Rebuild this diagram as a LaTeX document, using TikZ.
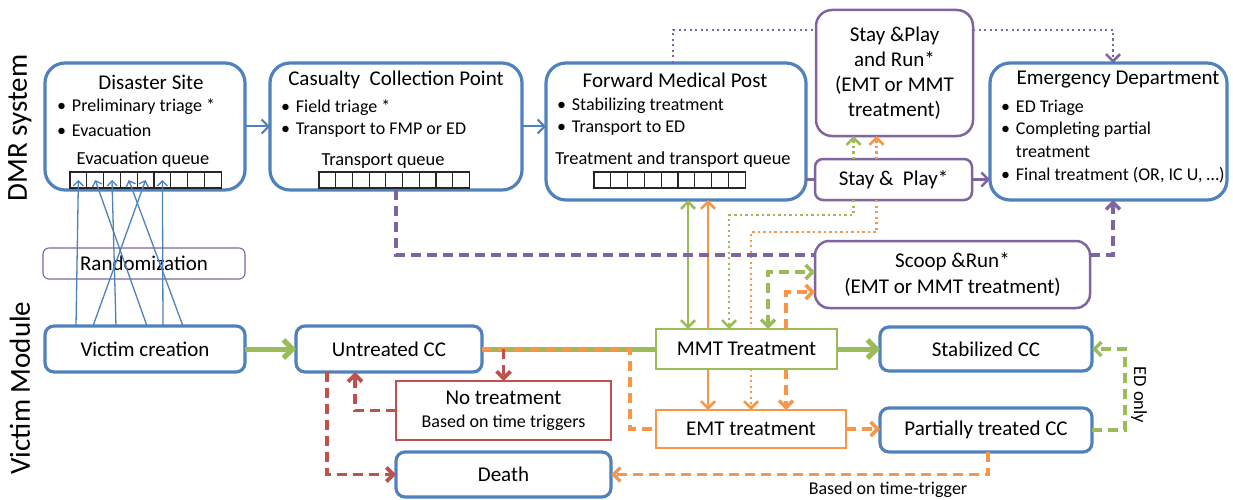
\documentclass[tikz,border=0pt]{standalone}
\usepackage{fontspec}
\setmainfont{Carlito}
\usetikzlibrary{arrows.meta,calc}

\definecolor{dmrblue}{RGB}{79,129,189}
\definecolor{dmrgreen}{RGB}{155,187,89}
\definecolor{dmrorange}{RGB}{247,150,70}
\definecolor{dmrred}{RGB}{192,80,77}
\definecolor{dmrpurple}{RGB}{128,100,162}

\begin{document}
\begin{tikzpicture}[
		x=1pt,y=-1pt,
		font=\fontsize{21}{24}\selectfont,
		every node/.style={inner sep=0pt,outer sep=0pt},
		sitebox/.style={draw=dmrblue,line width=3.2pt,rounded corners=20pt,fill=white},
		ccbox/.style={draw=dmrblue,line width=3.2pt,rounded corners=9pt,fill=white},
		modebox/.style={draw=dmrpurple,line width=2.5pt,rounded corners=#1,fill=white},
		treatbox/.style={draw=#1,line width=2.8pt,fill=white},
		qcell/.style={draw=black!85,line width=1.1pt,minimum width=16.8pt,minimum height=16pt},
		sitetitle/.style={font=\fontsize{21}{24}\selectfont},
		itemtext/.style={anchor=west,font=\fontsize{18}{22}\selectfont},
		qlabel/.style={font=\fontsize{18.4}{21}\selectfont},
		sidelabel/.style={rotate=90,font=\fontsize{29}{33}\selectfont},
		barb/.style={-{Straight Barb[length=7pt,width=14pt]}},
		twobarb/.style={{Straight Barb[length=7pt,width=14pt]}-{Straight Barb[length=7pt,width=14pt]}},
		bigbarb/.style={-{Straight Barb[length=9pt,width=18pt]}},
		dashline/.style={dash pattern=on 10pt off 6pt,line width=3.4pt},
		dotline/.style={dash pattern=on 2.2pt off 3.3pt,line width=2.6pt}
	]
	\useasboundingbox (0,0) rectangle (1233,500);
	
	\node[sidelabel] (dmrlabel) at (20,128) {DMR system};
	\node[sidelabel] (vmlabel) at (20,388) {Victim Module};
	
	\node[sitebox,minimum width=200pt,minimum height=127pt] (ds) at (145,126.5) {};
	\node[sitetitle] (dstitle) at (151,82) {Disaster Site};
	\node[itemtext] (ds1) at (57,107) {•\hspace{6pt}Preliminary triage *};
	\node[itemtext] (ds2) at (57,130) {•\hspace{6pt}Evacuation};
	\node[qlabel] (dsq) at (143,160) {Evacuation queue};
	\foreach \i in {1,...,9}
		\node[qcell] (dq\i) at ({70+16.8*(\i-0.5)},180) {};
	
	\node[sitebox,minimum width=252pt,minimum height=127pt] (ccp) at (396,126.5) {};
	\node[sitetitle] (ccptitle) at (396,80) {Casualty\ \ Collection Point};
	\node[itemtext] (ccp1) at (281,108) {•\hspace{6pt}Field triage *};
	\node[itemtext] (ccp2) at (281,130) {•\hspace{6pt}Transport to FMP or ED};
	\node[qlabel] (ccpq) at (383,161) {Transport queue};
	\foreach \i in {1,...,9}
		\node[qcell] (cq\i) at ({319+16.7*(\i-0.5)},180) {};
	
	\node[sitebox,minimum width=260pt,minimum height=137pt] (fmp) at (676,131.5) {};
	\node[sitetitle] (fmptitle) at (675,80) {Forward Medical Post};
	\node[itemtext] (fmp1) at (557,106) {•\hspace{6pt}Stabilizing treatment};
	\node[itemtext] (fmp2) at (557,128) {•\hspace{6pt}Transport to ED};
	\node[qlabel] (fmpq) at (673,160) {Treatment and transport queue};
	\foreach \i in {1,...,9}
		\node[qcell] (fq\i) at ({594+16.8*(\i-0.5)},180) {};
	
	\node[sitebox,minimum width=237pt,minimum height=137pt] (ed) at (1108.5,131.5) {};
	\node[sitetitle] (edtitle) at (1118,80) {Emergency Department};
	\node[itemtext] (ed1) at (1001,108) {•\hspace{6pt}ED Triage};
	\node[itemtext] (ed2) at (1001,130) {•\hspace{6pt}Completing partial};
	\node[itemtext] (ed3) at (1001,152) {\phantom{•}\hspace{6pt}treatment};
	\node[itemtext] (ed4) at (1001,175) {•\hspace{6pt}Final treatment (OR, IC U, …)};
	
	\node[modebox=16pt,minimum width=157pt,minimum height=126pt,align=center,font=\fontsize{21}{25}\selectfont] (spr) at (894.5,73) {Stay \&Play\\and Run*\\(EMT or MMT\\treatment)};
	\node[modebox=8pt,minimum width=157pt,minimum height=41pt] (sp) at (893.5,179.5) {Stay \&\ \ Play*};
	\node[modebox=14pt,minimum width=275pt,minimum height=67pt,align=center,font=\fontsize{21}{26}\selectfont] (sr) at (952.5,274.5) {Scoop \&Run*\\(EMT or MMT treatment)};
	\node[draw=dmrpurple,line width=1.1pt,rounded corners=6pt,fill=white,minimum width=202pt,minimum height=31pt] (rnd) at (144,263.5) {Randomization};
	
	\node[ccbox,minimum width=200pt,minimum height=46pt] (vc) at (145,349) {Victim creation};
	\node[ccbox,minimum width=186pt,minimum height=46pt] (ucc) at (389,349) {Untreated CC};
	\node[treatbox=dmrgreen,minimum width=181pt,minimum height=40pt] (mmt) at (746.5,349) {MMT Treatment};
	\node[ccbox,minimum width=212pt,minimum height=44pt] (scc) at (986,349) {Stabilized CC};
	\node[treatbox=dmrred,minimum width=215pt,minimum height=59pt,align=center,font=\fontsize{21}{23}\selectfont] (nt) at (503.5,410.5) {No treatment\\{\fontsize{18}{20}\selectfont Based on time triggers}};
	\node[treatbox=dmrorange,minimum width=190pt,minimum height=38pt] (emt) at (751,429) {EMT treatment};
	\node[ccbox,minimum width=212pt,minimum height=44pt] (ptc) at (986,430) {Partially treated CC};
	\node[ccbox,minimum width=215pt,minimum height=45pt] (death) at (503.5,474.5) {Death};
	
	\draw[dmrblue,line width=2pt,barb] (ds.east) -- (ccp.west);
	\draw[dmrblue,line width=2pt,barb] (ccp.east) -- (ccp.east -| fmp.west);
	\draw[dmrpurple,line width=2.4pt] (sp.west -| fmp.east) -- (sp.west);
	\draw[dmrpurple,line width=2.4pt,barb] (sp.east) -- (sp.east -| ed.west);
	\draw[dmrpurple,dotline] ($(fmp.north)+(-3,0)$) |- ($(spr.west)+(0,-43)$);
	\draw[dmrpurple,dotline,barb] ($(spr.east)+(0,-43)$) -| ($(ed.north)+(4.5,0)$);
	
	\foreach \s/\q in {31/1,48/5,71/3,102/2,118/6,138/4}
		\draw[dmrblue,line width=1.3pt,-{Straight Barb[length=5pt,width=10pt]}] ($(vc.north west)+(\s,0)$) -- (dq\q.center);
	
	\draw[dmrgreen,line width=5pt,bigbarb] (vc) -- (ucc);
	\draw[dmrgreen,line width=5pt] (ucc) -- (mmt);
	\draw[dmrgreen,line width=5pt,bigbarb] (mmt) -- (scc);
	
	\draw[dmrgreen,line width=2.6pt,twobarb] ($(fmp.south)+(12,0)$) -- ($(mmt.north)+(-58.5,0)$);
	\draw[dmrorange,line width=2.6pt,barb] ($(mmt.north)+(-38.5,0)$) -- ($(fmp.south)+(32,0)$);
	\draw[dmrorange,line width=2.6pt,barb] ($(mmt.south)+(-38.5,0)$) -- ($(emt.north)+(-43,0)$);
	
	\draw[dmrgreen,dotline,barb] ($(sp.south)+(-40,0)$) -- ++(0,15) -| ($(mmt.north)+(-17.5,0)$);
	\draw[dmrgreen,dotline,barb] ($(sp.north)+(-40,0)$) -- +(0,-23);
	\draw[dmrorange,dotline] ($(sp.south)+(-17,0)$) -- ++(0,32) -| ($(mmt.north)+(4.5,0)$);
	\draw[dmrorange,dotline,barb] ($(mmt.south)+(4.5,0)$) -- (emt.north);
	\draw[dmrorange,dotline,barb] ($(sp.north)+(-17,0)$) -- +(0,-23);
	
	\draw[dmrpurple,dashline] (ccp.south) |- ($(sr.west)+(0,-19.5)$);
	\draw[dmrpurple,dashline,barb] ($(sr.east)+(0,-19.5)$) -| ($(ed.south)+(4.5,0)$);
	
	\draw[dmrgreen,dashline,twobarb] ($(mmt.north)+(21.5,0)$) |- ($(sr.west)+(0,-2.5)$);
	\draw[dmrorange,dashline,barb] ($(mmt.north)+(39.5,0)$) |- ($(sr.west)+(0,17.5)$);
	\draw[dmrorange,dashline,barb] ($(mmt.south)+(39.5,0)$) -- ($(emt.north)+(35,0)$);
	
	\draw[dmrorange,dashline] (ucc.east) -| ($(emt.west)+(-26,0)$) -- (emt.west);
	\draw[dmrorange,dashline,barb] (emt.east) -- (emt.east -| ptc.west);
	\draw[dmrorange,dashline,barb] ($(ptc.south)+(2,0)$) |- (death.east);
	\node[font=\fontsize{18}{20}\selectfont] (trig) at (888,490) {Based on time-trigger};
	
	\draw[dmrred,dashline,line width=3.8pt,barb] ($(nt.north)+(0,-32)$) -- (nt.north);
	\draw[dmrred,dashline,line width=3.8pt,barb] (nt.west) -| ($(ucc.south)+(-34,0)$);
	\draw[dmrred,dashline,line width=3.8pt,barb] ($(ucc.south)+(-62,0)$) |- (death.west);
	
	\draw[dmrgreen,dashline,barb] (ptc.east) -- ++(33,0) |- (scc.east);
	\node[rotate=-90,font=\fontsize{18.5}{20}\selectfont] (edonly) at (1139,395) {ED only};
\end{tikzpicture}
\end{document}
